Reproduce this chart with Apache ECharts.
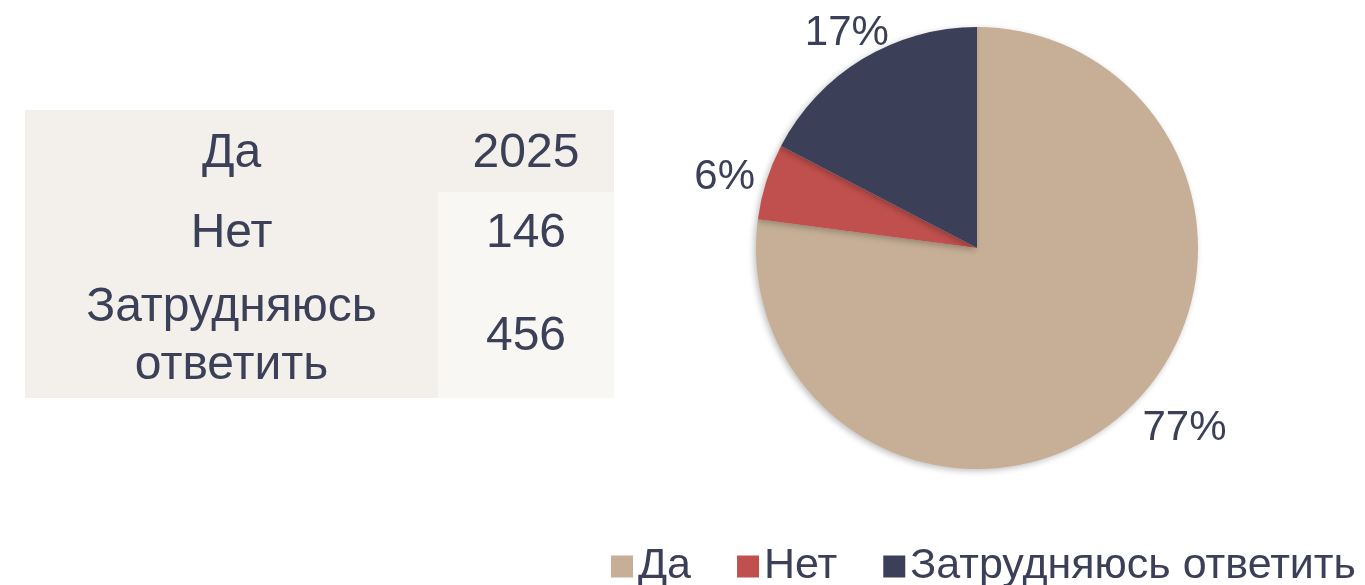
<!DOCTYPE html>
<html>
<head>
<meta charset="utf-8">
<title>Pie</title>
<script src="https://cdn.jsdelivr.net/npm/echarts@6/dist/echarts.min.js"></script>
<style>
  html, body { margin: 0; padding: 0; background: #fff; }
  #chart { position: absolute; left: 0; top: 0; width: 1365px; height: 585px; }
  #tbl {
    position: absolute; left: 25px; top: 110px; z-index: 2;
    border-collapse: collapse; table-layout: fixed;
    font-family: 'Liberation Sans', Arial, sans-serif; font-size: 48px; color: #3b4058;
  }
  #tbl td { padding: 0; text-align: center; line-height: 58px; background: #f3f0eb; }
  #tbl td.v { background: #f8f7f3; }
  #tbl tr:first-child td { background: #f3f0eb; }
</style>
</head>
<body>
<div id="chart"></div>
<table id="tbl"></table>
<script>
const categories = ['Да', 'Нет', 'Затрудняюсь ответить']
const values = [2025, 146, 456]
const colors = ['#c6af96', '#c0504d', '#3b4058']

// table on the left
const rowHeights = [82, 78, 128]
const tbl = document.getElementById('tbl')
tbl.innerHTML = '<colgroup><col style="width:413px"><col style="width:176px"></colgroup>' +
  categories.map((c, i) =>
    '<tr style="height:' + rowHeights[i] + 'px"><td>' + c + '</td><td class="v">' + values[i] + '</td></tr>'
  ).join('')

const labelOffsets = [[42, -8], [-13, 5], [0, 0]] // подвинуть подписи как в оригинале

const chart = echarts.init(document.getElementById('chart'))
const pieData = categories.map((name, i) => ({
  name: name,
  value: values[i],
  itemStyle: { color: colors[i] }
}))

chart.setOption({
  animation: false,
  legend: {
    data: categories,
    icon: 'rect',
    itemWidth: 22,
    itemHeight: 22,
    itemGap: 46,
    left: 606,
    top: 540,
    textStyle: {
      fontFamily: 'Liberation Sans, Arial, sans-serif',
      fontSize: 43,
      color: '#3b4058'
    }
  },
  series: [{
    type: 'pie',
    center: [977, 248],
    radius: 221,
    startAngle: 90,
    clockwise: true,
    label: { show: false },
    labelLine: { show: false },
    itemStyle: {
      shadowBlur: 6,
      shadowColor: 'rgba(0,0,0,0.25)',
      shadowOffsetX: -2,
      shadowOffsetY: 2
    },
    data: pieData
  }, {
    // invisible ring just to put the % labels at the right distance
    type: 'pie',
    center: [977, 248],
    radius: 496,
    startAngle: 90,
    clockwise: true,
    silent: true,
    itemStyle: { color: 'transparent' },
    label: {
      position: 'inside',
      fontFamily: 'Liberation Sans, Arial, sans-serif',
      fontSize: 42,
      color: '#3b4058',
      formatter: p => Math.round(p.percent) + '%'
    },
    labelLine: { show: false },
    data: categories.map((name, i) => ({
      name: name,
      value: values[i],
      label: { offset: labelOffsets[i] }
    }))
  }]
})
</script>
</body>
</html>
